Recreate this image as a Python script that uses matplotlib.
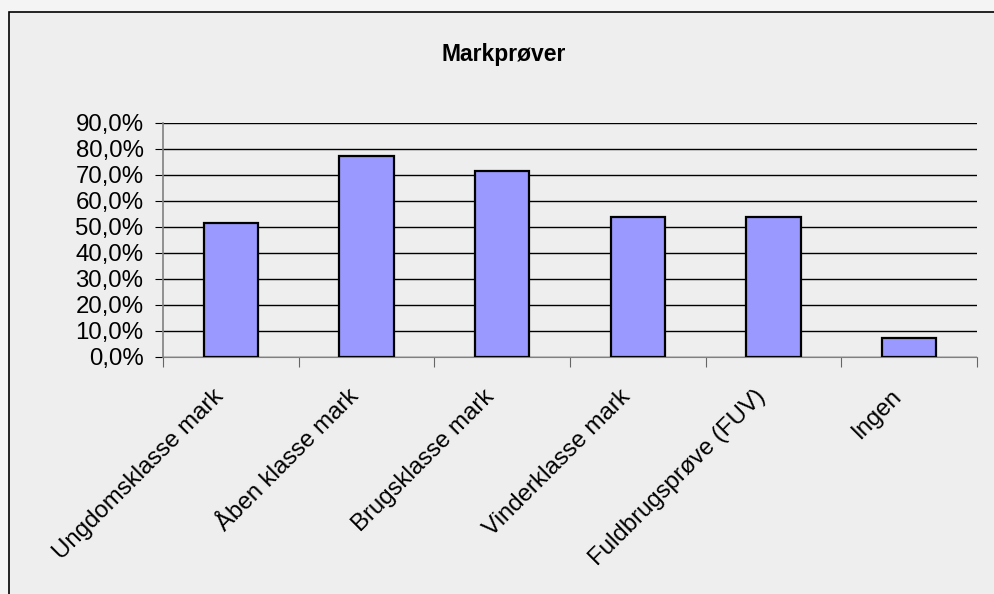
import matplotlib
matplotlib.use("Agg")
from matplotlib import pyplot as plt
from matplotlib.patches import Rectangle
from matplotlib.ticker import FuncFormatter, MultipleLocator
import matplotlib.transforms as mtransforms
import numpy as np

# data
categories = ["Ungdomsklasse mark", "Åben klasse mark", "Brugsklasse mark",
              "Vinderklasse mark", "Fuldbrugsprøve (FUV)", "Ingen"]
shares = [0.516, 0.774, 0.716, 0.538, 0.538, 0.073]
title = "Markprøver"

plt.rcParams["font.family"] = ["Liberation Sans", "DejaVu Sans"]

fig = plt.figure(figsize=(9.94, 5.94), dpi=100)
fig.patch.set_facecolor("#f4f4f4")

# chart frame (left and top edges visible, rest runs off the picture)
frame = Rectangle((9 / 994, -0.1), 1.2, 1 - 12 / 594 + 0.1,
                  transform=fig.transFigure, facecolor="#eeeeee",
                  edgecolor="black", linewidth=1.2, zorder=-10)
fig.add_artist(frame)

ax = fig.add_axes([163 / 994, 1 - 357 / 594, (977 - 163) / 994, (357 - 123) / 594])
ax.set_facecolor("none")

x = np.arange(len(categories))
ax.bar(x, shares, width=0.4, color="#9999ff", edgecolor="black",
       linewidth=1.6, zorder=3)

ax.set_xlim(-0.5, len(categories) - 0.5)
ax.set_ylim(0, 0.9)
ax.yaxis.set_major_locator(MultipleLocator(0.1))
ax.yaxis.set_major_formatter(FuncFormatter(lambda v, p: ("%.1f%%" % (v * 100)).replace(".", ",")))
ax.grid(axis="y", color="black", linewidth=1.0, zorder=1)

# ticks on category boundaries, labels on centres
ax.set_xticks(np.arange(len(categories) + 1) - 0.5)
ax.set_xticklabels([])
ax.set_xticks(x, minor=True)
ax.set_xticklabels(categories, minor=True, rotation=45, ha="right",
                   va="center", rotation_mode="anchor", fontsize=17.3)
ax.tick_params(axis="x", which="minor", length=0, pad=26)
ax.tick_params(axis="x", which="major", length=7, color="#666666", direction="out")
ax.tick_params(axis="y", length=6, color="black", labelsize=17.3, pad=8)

# nudge the slanted labels a bit to the left
shift = mtransforms.ScaledTranslation(-11 / 100, 0, fig.dpi_scale_trans)
for lab in ax.get_xticklabels(minor=True):
    lab.set_transform(lab.get_transform() + shift)

for side in ["top", "right"]:
    ax.spines[side].set_visible(False)
ax.spines["left"].set_color("#808080")
ax.spines["left"].set_linewidth(1.2)
ax.spines["bottom"].set_color("#808080")

fig.text(504 / 994, 1 - 55 / 594, title, ha="center", va="center",
         fontsize=16.5, fontweight="bold")

fig.savefig("out.png", dpi=100, facecolor=fig.get_facecolor())
